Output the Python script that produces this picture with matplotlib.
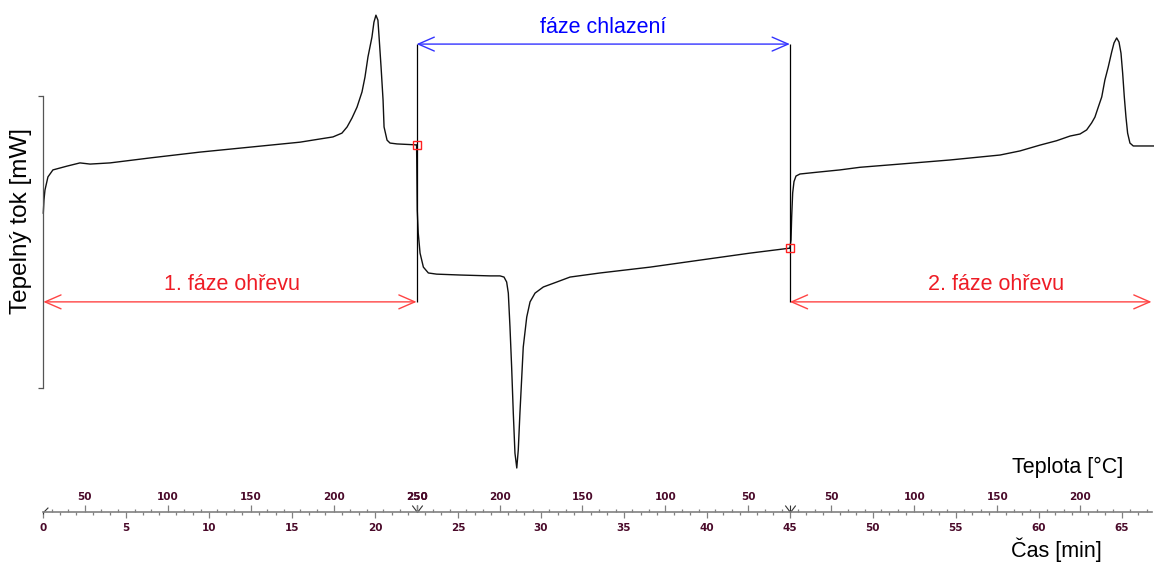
import numpy as np
import matplotlib
matplotlib.use("Agg")
import matplotlib.pyplot as plt
from matplotlib.path import Path

plt.rcParams['font.family'] = ['Liberation Sans', 'DejaVu Sans']

# --- data read from the DSC record (time in min, heat flow in arbitrary mW) ---
heat1_t = [0.0, 0.04, 0.10, 0.28, 0.58, 1.43, 2.21, 2.82, 4.02, 6.43, 9.44, 12.46,
           15.47, 16.68, 17.46, 18.00, 18.31, 18.61, 18.91, 19.21, 19.39, 19.57,
           19.81, 19.93, 20.05, 20.17, 20.24, 20.36, 20.48, 20.54, 20.72, 20.90,
           21.32, 22.40, 22.5]
heat1_f = [5.99, 6.44, 6.78, 7.23, 7.47, 7.60, 7.71, 7.67, 7.71, 7.88, 8.08, 8.25,
           8.42, 8.53, 8.60, 8.73, 8.94, 9.25, 9.62, 10.14, 10.65, 11.34,
           12.02, 12.53, 12.77, 12.60, 12.02, 10.99, 9.86, 8.94, 8.49, 8.39,
           8.36, 8.33, 8.32]

cool_t = [22.5, 22.51, 22.54, 22.60, 22.71, 22.91, 23.21, 23.71, 25.12, 26.93, 27.53,
          27.77, 27.93, 28.03, 28.13, 28.23, 28.33, 28.43, 28.54, 28.63, 28.73,
          28.84, 28.93, 29.14, 29.34, 29.64, 30.14, 30.95, 31.75, 33.56, 36.57,
          39.58, 42.60, 45.0]
cool_f = [8.32, 7.81, 6.10, 5.31, 4.62, 4.14, 3.94, 3.90, 3.87, 3.84, 3.84,
          3.80, 3.63, 3.25, 2.09, 0.72, -0.86, -2.23, -2.74, -2.12, -0.86,
          0.38, 1.40, 2.43, 2.95, 3.25, 3.46, 3.63, 3.80, 3.94, 4.14,
          4.38, 4.62, 4.79]

heat2_t = [45.0, 45.07, 45.11, 45.17, 45.25, 45.37, 45.61, 46.62, 48.02, 49.23, 51.64,
           54.65, 57.67, 58.87, 60.08, 61.08, 61.89, 62.49, 62.89, 63.19, 63.39,
           63.59, 63.80, 63.99, 64.19, 64.40, 64.54, 64.70, 64.84, 64.96, 65.06,
           65.16, 65.26, 65.36, 65.50, 65.70, 66.91]
heat2_f = [4.79, 5.07, 5.86, 6.68, 7.07, 7.26, 7.33, 7.39, 7.47, 7.56, 7.67,
           7.81, 7.98, 8.12, 8.32, 8.47, 8.63, 8.70, 8.84, 9.08, 9.28,
           9.62, 9.97, 10.55, 10.99, 11.51, 11.82, 11.99, 11.85, 11.47, 10.79,
           9.97, 9.28, 8.73, 8.39, 8.29, 8.29]

# temperature program: segment boundaries (min) and temperatures (degC)
prog_t = [0.0, 22.5, 45.0, 66.9]
prog_T = [25.0, 250.0, 25.0, 244.0]

phase_labels = ["1. fáze ohřevu", "fáze chlazení", "2. fáze ohřevu"]
time_ticks = np.arange(0, 66, 5)
time_minor = np.arange(0, 67, 1)

# levels of the phase arrows
y_heat = 2.95
y_cool = 11.78


def temp_ticks(step):
    pos, lab = [], []
    for i in range(3):
        t0, t1 = prog_t[i], prog_t[i + 1]
        T0, T1 = prog_T[i], prog_T[i + 1]
        lo, hi = min(T0, T1), max(T0, T1)
        for T in range(step, 251, step):
            if lo < T <= hi:
                pos.append(t0 + (T - T0) / (T1 - T0) * (t1 - t0))
                lab.append(str(T))
    return pos, lab


temp_pos, temp_lab = temp_ticks(50)
temp_minor, _ = temp_ticks(10)

XLIM = (-2.61, 66.95)

fig = plt.figure(figsize=(11.54, 5.62), dpi=100)
ax = fig.add_axes([0, 0, 1, 1])
ax.set_xlim(*XLIM)
ax.set_ylim(-5.96, 13.29)
ax.patch.set_alpha(0)
for s in ['top', 'right', 'bottom']:
    ax.spines[s].set_visible(False)
ax.spines['left'].set_position(('data', 0))
ax.spines['left'].set_bounds(0, 10)
ax.spines['left'].set_color('#555555')
ax.spines['left'].set_linewidth(0.9)
ax.set_xticks([])
ax.set_yticks([0, 10])
ax.tick_params(axis='y', length=3.5, width=0.9, color='#555555', labelleft=False)

# curves
for t, f in [(heat1_t, heat1_f), (cool_t, cool_f), (heat2_t, heat2_f)]:
    ax.plot(t, f, color='#111111', lw=1.0)

# phase separators
ax.vlines(prog_t[1:3], y_heat, y_cool, color='black', lw=0.9)

# switch points
ax.plot([heat1_t[-1], cool_t[-1]], [heat1_f[-1], cool_f[-1]], ls='none', marker='s',
        ms=5.5, mfc='none', mec='#ff2020', mew=1.0, zorder=5)

# arrows
arr = dict(arrowstyle='<->,head_length=11.5,head_width=5', mutation_scale=1,
           shrinkA=0, shrinkB=0, lw=1.0)
ax.annotate('', xy=(prog_t[1], y_heat), xytext=(prog_t[0], y_heat),
            arrowprops=dict(color='#ff4444', **arr))
ax.annotate('', xy=(prog_t[2], y_cool), xytext=(prog_t[1], y_cool),
            arrowprops=dict(color='#3333ff', **arr))
ax.annotate('', xy=(66.8, y_heat), xytext=(prog_t[2], y_heat),
            arrowprops=dict(color='#ff4444', **arr))

ax.text(11.35, 3.56, phase_labels[0], color='#ee1c25', fontsize=15.5, ha='center', va='center')
ax.text(33.75, 12.36, phase_labels[1], color='#0000ff', fontsize=15.5, ha='center', va='center')
ax.text(57.4, 3.56, phase_labels[2], color='#ee1c25', fontsize=15.5, ha='center', va='center')

fig.text(21 / 1154, 1 - 221 / 562, "Tepelný tok [mW]", rotation=90, fontsize=17.5,
         ha='center', va='center')
fig.text(1068 / 1154, 1 - 467 / 562, "Teplota [°C]", fontsize=15.5, ha='center', va='center')
fig.text(1056 / 1154, 1 - 550 / 562, "Čas [min]", fontsize=15.5, ha='center', va='center')

# bottom scale: time below, temperature above
tick_col = '#4a0a2a'
line_col = '#808080'
sax = fig.add_axes([0, 1 - 512 / 562, 1, 0.0001])
sax.set_xlim(*XLIM)
sax.set_ylim(0, 1)
sax.patch.set_alpha(0)
for s in ['top', 'left', 'right']:
    sax.spines[s].set_visible(False)
sax.spines['bottom'].set_bounds(0, 66.8)
sax.spines['bottom'].set_color(line_col)
sax.spines['bottom'].set_linewidth(1.2)
sax.set_yticks([])
sax.set_xticks(time_ticks, labels=[str(v) for v in time_ticks], fontweight='bold',
               fontfamily='DejaVu Sans', fontsize=7.5, color=tick_col)
sax.set_xticks(time_minor, minor=True)
sax.tick_params(axis='x', which='major', direction='out', length=4.5, width=0.9,
                color=line_col, pad=3.6)
sax.tick_params(axis='x', which='minor', direction='out', length=2.4, width=0.9,
                color=line_col)

tax = sax.twiny()
tax.set_xlim(*XLIM)
for s in tax.spines.values():
    s.set_visible(False)
tax.set_xticks(temp_pos, labels=temp_lab, fontweight='bold', fontfamily='DejaVu Sans',
               fontsize=7.5, color=tick_col)
tax.set_xticks(temp_minor, minor=True)
tax.tick_params(axis='x', which='major', direction='out', length=4.8, width=0.9,
                color=line_col, pad=2.3)
tax.tick_params(axis='x', which='minor', direction='out', length=2.4, width=0.9,
                color=line_col)

# segment markers on the scale
v_mark = Path([(-0.75, 1), (0, 0), (0.75, 1), (0, 0), (0, 1)],
              [Path.MOVETO, Path.LINETO, Path.LINETO, Path.MOVETO, Path.LINETO])
s_mark = Path([(0, 0), (0, -0.4), (0, 0), (1, 1)],
              [Path.MOVETO, Path.LINETO, Path.MOVETO, Path.LINETO])
sax.plot(prog_t[1:3], [0, 0], ls='none', marker=v_mark, ms=10, mfc='none',
         mec='#333333', mew=0.8, clip_on=False)
sax.plot(prog_t[:1], [0], ls='none', marker=s_mark, ms=7, mfc='none',
         mec='#333333', mew=0.8, clip_on=False)

fig.savefig("out.png", dpi=100, facecolor='white')
